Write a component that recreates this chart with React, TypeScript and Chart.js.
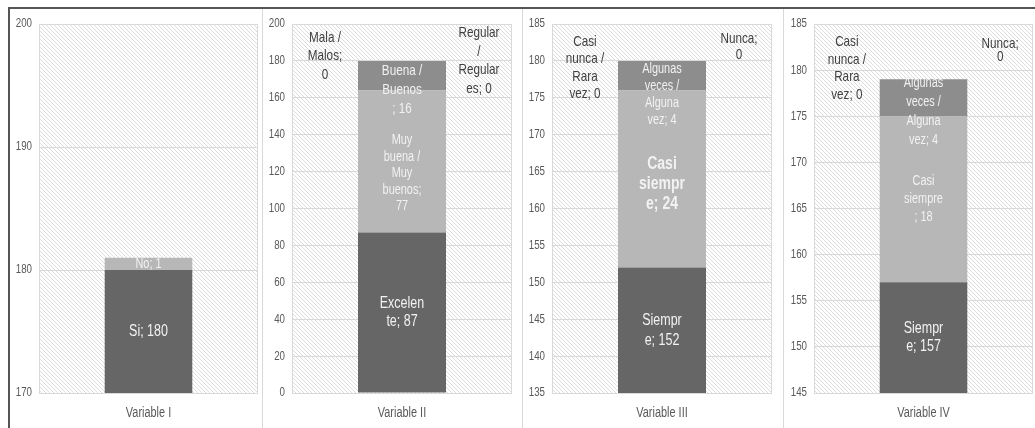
import React, { useEffect, useRef } from "react";
import { Chart, registerables } from "chart.js";

Chart.register(...registerables);

const FONT = "'Liberation Sans Narrow', 'Arial Narrow', 'Liberation Sans', Arial, sans-serif";
const SQUEEZE = 0.78; // horizontal condensing of all chart text (narrow typeface look)

// ---------- Panel I ----------
const categoriesI = ["Variable I"];
const seriesI = ["Si", "No"];
const valuesI = [180, 1];
const yTicksI = [170, 180, 190, 200];
const labelTextI = ["Si; {v}", "No; {v}"];

// ---------- Panel II ----------
const categoriesII = ["Variable II"];
const seriesII = ["Excelente", "Muy buena / Muy buenos", "Buena / Buenos", "Mala / Malos", "Regular / Regulares"];
const valuesII = [87, 77, 16, 0, 0];
const yTicksII = [0, 20, 40, 60, 80, 100, 120, 140, 160, 180, 200];
const labelTextII = [
  "Excelen\nte; {v}",
  "Muy\nbuena /\nMuy\nbuenos;\n{v}",
  "Buena /\nBuenos\n; {v}",
  "Mala /\nMalos;\n{v}",
  "Regular\n/\nRegular\nes; {v}",
];

// ---------- Panel III ----------
const categoriesIII = ["Variable III"];
const seriesIII = ["Siempre", "Casi siempre", "Algunas veces / Alguna vez", "Casi nunca / Rara vez", "Nunca"];
const valuesIII = [152, 24, 4, 0, 0];
const yTicksIII = [135, 140, 145, 150, 155, 160, 165, 170, 175, 180, 185];
const labelTextIII = [
  "Siempr\ne; {v}",
  "Casi\nsiempr\ne; {v}",
  "Algunas\nveces /\nAlguna\nvez; {v}",
  "Casi\nnunca /\nRara\nvez; {v}",
  "Nunca;\n{v}",
];

// ---------- Panel IV ----------
const categoriesIV = ["Variable IV"];
const seriesIV = ["Siempre", "Casi siempre", "Algunas veces / Alguna vez", "Casi nunca / Rara vez", "Nunca"];
const valuesIV = [157, 18, 4, 0, 0];
const yTicksIV = [145, 150, 155, 160, 165, 170, 175, 180, 185];
const labelTextIV = [
  "Siempr\ne; {v}",
  "Casi\nsiempre\n; {v}",
  "Algunas\nveces /\nAlguna\nvez; {v}",
  "Casi\nnunca /\nRara\nvez; {v}",
  "Nunca;\n{v}",
];

// ---------- styles ----------
const DARK = "#666666";
const LIGHT = "#b7b7b7";
const MID = "#8d8d8d";
const IN = "#f2f2f2";
const OUT = "#404040";

type LStyle = { size: number; lh: number; dy: number; bold?: boolean; color: string; side?: "left" | "right" };

const PANELS = [
  {
    left: 9, width: 253, axisW: 30, padR: 4,
    categories: categoriesI, series: seriesI, values: valuesI, ticks: yTicksI, texts: labelTextI,
    colors: [DARK, LIGHT],
    styles: [
      { size: 16, lh: 18, dy: 0, color: IN },
      { size: 14, lh: 16, dy: 0, color: IN },
    ] as LStyle[],
  },
  {
    left: 263, width: 259, axisW: 29, padR: 10,
    categories: categoriesII, series: seriesII, values: valuesII, ticks: yTicksII, texts: labelTextII,
    colors: [DARK, LIGHT, MID, "#a0a0a0", "#4d4d4d"],
    styles: [
      { size: 16, lh: 18, dy: 0, color: IN },
      { size: 14, lh: 16.5, dy: 12, color: IN },
      { size: 15, lh: 19, dy: 14, color: IN },
      { size: 15, lh: 18.5, dy: -5, color: OUT, side: "left" },
      { size: 15, lh: 18.5, dy: 0, color: OUT, side: "right" },
    ] as LStyle[],
  },
  {
    left: 523, width: 260, axisW: 29, padR: 11,
    categories: categoriesIII, series: seriesIII, values: valuesIII, ticks: yTicksIII, texts: labelTextIII,
    colors: [DARK, LIGHT, MID, "#a0a0a0", "#4d4d4d"],
    styles: [
      { size: 16, lh: 20, dy: 0, color: IN },
      { size: 18, lh: 20, dy: 5, bold: true, color: IN },
      { size: 14, lh: 17, dy: 19, color: IN },
      { size: 15, lh: 17.5, dy: 7, color: OUT, side: "left" },
      { size: 15, lh: 16, dy: -14, color: OUT, side: "right" },
    ] as LStyle[],
  },
  {
    left: 784, width: 251, axisW: 30, padR: 2,
    categories: categoriesIV, series: seriesIV, values: valuesIV, ticks: yTicksIV, texts: labelTextIV,
    colors: [DARK, LIGHT, MID, "#a0a0a0", "#4d4d4d"],
    styles: [
      { size: 16, lh: 18, dy: 0, color: IN },
      { size: 14, lh: 18, dy: 0, color: IN },
      { size: 14, lh: 19, dy: 14, color: IN },
      { size: 15, lh: 17.5, dy: -11, color: OUT, side: "left" },
      { size: 15, lh: 13, dy: -29, color: OUT, side: "right" },
    ] as LStyle[],
  },
];

function makePattern(ctx: CanvasRenderingContext2D) {
  const c = document.createElement("canvas");
  c.width = 4;
  c.height = 4;
  const g = c.getContext("2d")!;
  g.fillStyle = "#ffffff";
  g.fillRect(0, 0, 4, 4);
  g.strokeStyle = "#dcdcdc";
  g.lineWidth = 1;
  g.beginPath();
  g.moveTo(-1, -1);
  g.lineTo(5, 5);
  g.stroke();
  return ctx.createPattern(c, "repeat");
}

// makes all text of a chart horizontally condensed, like a narrow typeface
const narrowTextPlugin = {
  id: "narrowText",
  beforeInit(chart: any) {
    const ctx = chart.ctx;
    if (ctx.__narrow) return;
    const orig = ctx.fillText.bind(ctx);
    ctx.fillText = (t: string, x: number, y: number, mw?: number) => {
      const w = ctx.measureText(t).width * SQUEEZE;
      orig(t, x, y, mw !== undefined ? Math.min(mw, w) : Math.max(w, 0.01));
    };
    ctx.__narrow = true;
  },
};

const hatchPlugin = {
  id: "hatch",
  beforeDraw(chart: any) {
    const { ctx, chartArea: a } = chart;
    ctx.save();
    const pat = makePattern(ctx);
    if (pat) ctx.fillStyle = pat;
    ctx.fillRect(a.left, a.top, a.right - a.left, a.bottom - a.top);
    ctx.restore();
  },
  beforeDatasetsDraw(chart: any) {
    const { ctx, chartArea: a } = chart;
    ctx.save();
    ctx.strokeStyle = "#d9d9d9";
    ctx.lineWidth = 1;
    ctx.strokeRect(Math.round(a.left) + 0.5, Math.round(a.top) + 0.5, Math.round(a.right - a.left) - 1, Math.round(a.bottom - a.top));
    ctx.restore();
  },
};

function makeLabelPlugin(values: number[], texts: string[], styles: LStyle[]) {
  return {
    id: "segLabels",
    afterDatasetsDraw(chart: any) {
      const { ctx, chartArea: area } = chart;
      const yS = chart.scales.y;
      const total = values.reduce((s, v) => s + v, 0);
      const topPx = yS.getPixelForValue(total);
      ctx.save();
      ctx.textAlign = "center";
      ctx.textBaseline = "middle";
      values.forEach((v, i) => {
        const el = chart.getDatasetMeta(i).data[0];
        const st = styles[i];
        const lines = texts[i].replace("{v}", String(v)).split("\n");
        const half = el.width / 2;
        let cx: number;
        let cy: number;
        if (v === 0) {
          cx = st.side === "left" ? (area.left + el.x - half) / 2 : (el.x + half + area.right) / 2;
          cy = topPx + st.dy;
        } else {
          const a = Math.max(Math.min(el.y, el.base), area.top);
          const b = Math.min(Math.max(el.y, el.base), area.bottom);
          cx = el.x;
          cy = (a + b) / 2 + st.dy;
        }
        ctx.font = `${st.bold ? "bold " : ""}${st.size}px ${FONT}`;
        ctx.fillStyle = st.color;
        const y0 = cy - ((lines.length - 1) * st.lh) / 2;
        lines.forEach((ln, k) => ctx.fillText(ln, cx, y0 + k * st.lh));
      });
      ctx.restore();
    },
  };
}

function Panel({ p }: { p: (typeof PANELS)[number] }) {
  const ref = useRef<HTMLCanvasElement>(null);
  useEffect(() => {
    const ticks = p.ticks;
    const chart = new Chart(ref.current!, {
      type: "bar",
      data: {
        labels: p.categories,
        datasets: p.series.map((s, i) => ({
          label: s,
          data: [p.values[i]],
          backgroundColor: p.colors[i],
          borderWidth: 0,
          barPercentage: 0.4,
          categoryPercentage: 1,
        })),
      },
      options: {
        responsive: false,
        animation: false,
        devicePixelRatio: 1,
        layout: { padding: { top: 16, right: p.padR, bottom: 0, left: 0 } },
        plugins: { legend: { display: false }, tooltip: { enabled: false } },
        scales: {
          x: {
            stacked: true,
            grid: { display: false, drawTicks: false },
            border: { display: false },
            ticks: { padding: 12, color: "#595959", font: { family: FONT, size: 14 }, maxRotation: 0 },
            afterFit: (s: any) => {
              s.height = 35;
            },
          },
          y: {
            stacked: true,
            min: ticks[0],
            max: ticks[ticks.length - 1],
            ticks: { stepSize: ticks[1] - ticks[0], padding: 7, color: "#595959", font: { family: FONT, size: 12.5 } },
            grid: { color: "#d9d9d9", drawTicks: false },
            border: { display: false },
            afterFit: (s: any) => {
              s.width = p.axisW;
            },
          },
        },
      } as any,
      plugins: [narrowTextPlugin, hatchPlugin, makeLabelPlugin(p.values, p.texts, p.styles)],
    });
    return () => chart.destroy();
  }, []);
  return (
    <div style={{ position: "absolute", left: p.left, top: 8, width: p.width, height: 420 }}>
      <canvas ref={ref} width={p.width} height={420} style={{ width: p.width, height: 420, display: "block" }} />
    </div>
  );
}

export default function App() {
  return (
    <div style={{ position: "absolute", left: 0, top: 0, width: 1035, height: 428, background: "#fff", overflow: "hidden" }}>
      {PANELS.map((p, i) => (
        <Panel key={i} p={p} />
      ))}
      <div style={{ position: "absolute", left: 8, top: 7, width: 1027, height: 2, background: "#555" }} />
      <div style={{ position: "absolute", left: 8, top: 7, width: 2, height: 421, background: "#555" }} />
      {[262, 522, 783].map((x) => (
        <div key={x} style={{ position: "absolute", left: x, top: 9, width: 1, height: 419, background: "#d9d9d9" }} />
      ))}
    </div>
  );
}
